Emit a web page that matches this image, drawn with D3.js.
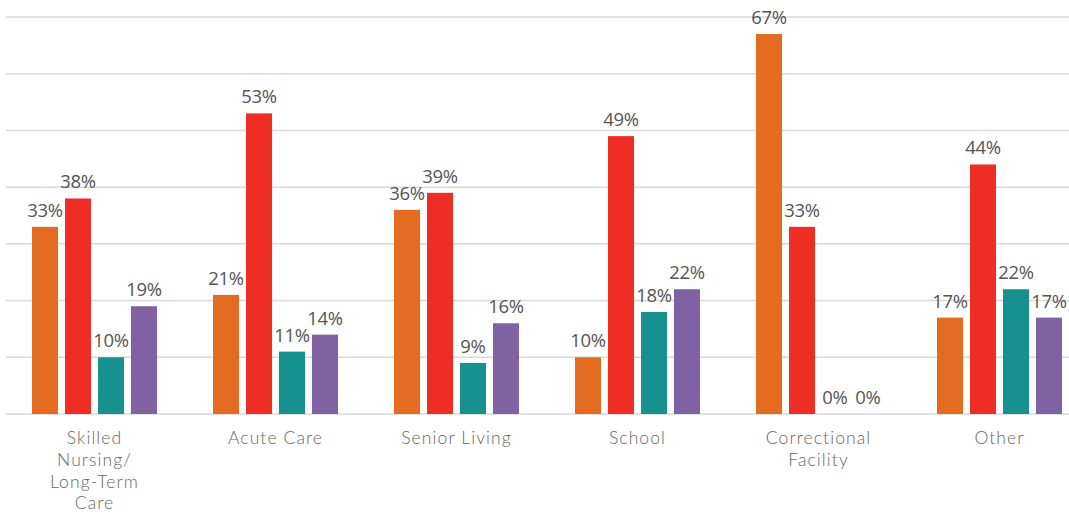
<!DOCTYPE html>
<html><head><meta charset="utf-8">
<script src="https://cdn.jsdelivr.net/npm/d3@7"></script>
<style>body{margin:0;background:#fff;}svg{display:block;}</style>
</head><body>
<script>
const categories = [["Skilled","Nursing/","Long-Term","Care"],["Acute Care"],["Senior Living"],["School"],["Correctional","Facility"],["Other"]];
const seriesNames = ["S1","S2","S3","S4"];
const seriesColors = ["#E46C22","#EE2E24","#169190","#8062A2"];
const s1 = [33,21,36,10,67,17];
const s2 = [38,53,39,49,33,44];
const s3 = [10,11,9,18,0,22];
const s4 = [19,14,16,22,0,17];
const series = [s1,s2,s3,s4];
const yTicks = [0,10,20,30,40,50,60,70];

const W=1069,H=514;
const svg=d3.select("body").append("svg").attr("width",W).attr("height",H);
const x0=d3.scaleBand().domain(d3.range(categories.length)).range([4,1090]);
const x1=d3.scaleBand().domain(d3.range(series.length)).range([-62.5,62.5]).paddingInner(0.21);
const y=d3.scaleLinear().domain([0,70]).range([414,17]);

svg.append("g").selectAll("line").data(yTicks).join("line")
  .attr("x1",6).attr("x2",1069).attr("y1",d=>y(d)).attr("y2",d=>y(d))
  .attr("stroke","#d9d9d9").attr("stroke-width",1.5);

const groups=svg.append("g").selectAll("g").data(categories).join("g")
  .attr("transform",(d,i)=>`translate(${x0(i)+x0.bandwidth()/2},0)`);

groups.each(function(c,ci){
  const g=d3.select(this);
  series.forEach((s,si)=>{
    const v=s[ci];
    if(v>0){
      g.append("rect").attr("x",x1(si)).attr("width",x1.bandwidth())
        .attr("y",y(v)).attr("height",y(0)-y(v)).attr("fill",seriesColors[si]);
    }
    g.append("text").attr("x",x1(si)+x1.bandwidth()/2).attr("y",y(v)-10)
      .attr("text-anchor","middle").attr("font-family","Open Sans").attr("font-size",18.5)
      .attr("letter-spacing",-0.3).attr("fill","#555").text(v+"%");
  });
  const t=g.append("text").attr("text-anchor","middle").attr("font-family","Lato")
    .attr("font-size",17.5).attr("font-weight",300).attr("fill","#666").attr("letter-spacing",1.1);
  c.forEach((line,li)=>{
    t.append("tspan").attr("x",0).attr("y",444+li*21.8).text(line);
  });
});
</script>
</body></html>
